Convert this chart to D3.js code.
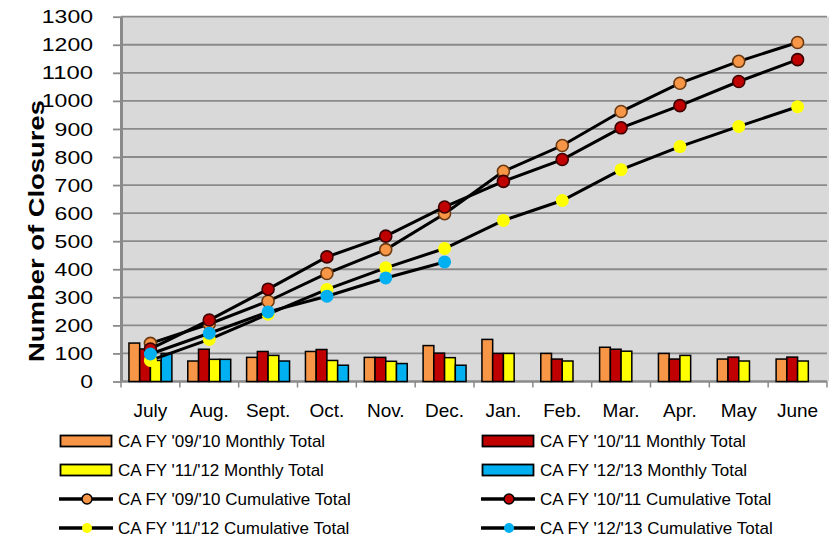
<!DOCTYPE html>
<html>
<head>
<meta charset="utf-8">
<script src="https://cdn.jsdelivr.net/npm/d3@7"></script>
<style>
  body { margin: 0; background: #fff; }
  svg { display: block; font-family: "Liberation Sans", Arial, sans-serif; }
</style>
</head>
<body>
<svg id="chart"></svg>
<script>
const months = ['July', 'Aug.', 'Sept.', 'Oct.', 'Nov.', 'Dec.', 'Jan.', 'Feb.', 'Mar.', 'Apr.', 'May', 'June'];
const yTicks = [0, 100, 200, 300, 400, 500, 600, 700, 800, 900, 1000, 1100, 1200, 1300];

const monthly0910 = [137, 73, 86, 107, 86, 128, 150, 100, 122, 100, 80, 80];
const monthly1011 = [116, 115, 107, 114, 86, 101, 100, 80, 115, 80, 87, 87];
const monthly1112 = [75, 79, 93, 75, 72, 85, 100, 73, 108, 93, 73, 73];
const monthly1213 = [100, 79, 73, 58, 64, 58];

const cum0910 = [136, 205, 286, 385, 470, 598, 749, 841, 962, 1063, 1141, 1208];
const cum1011 = [116, 219, 329, 444, 518, 622, 713, 791, 904, 983, 1069, 1147];
const cum1112 = [75, 150, 240, 328, 405, 474, 574, 645, 755, 837, 909, 979];
const cum1213 = [98, 172, 248, 304, 369, 426];

const barSeries = [
  {name: "CA FY '09/'10 Monthly Total", values: monthly0910, color: '#F79646'},
  {name: "CA FY '10/'11 Monthly Total", values: monthly1011, color: '#C00000'},
  {name: "CA FY '11/'12 Monthly Total", values: monthly1112, color: '#FFFF00'},
  {name: "CA FY '12/'13 Monthly Total", values: monthly1213, color: '#00B0F0'}
];

const lineSeries = [
  {name: "CA FY '09/'10 Cumulative Total", values: cum0910, color: '#F79646', stroke: '#6b3a12'},
  {name: "CA FY '10/'11 Cumulative Total", values: cum1011, color: '#C00000', stroke: '#3d0000'},
  {name: "CA FY '11/'12 Cumulative Total", values: cum1112, color: '#FFFF00', stroke: 'none'},
  {name: "CA FY '12/'13 Cumulative Total", values: cum1213, color: '#00B0F0', stroke: 'none'}
];

const W = 838, H = 540;
const plot = {left: 121, right: 827, top: 16.7, bottom: 381.5};
const gridColor = '#8a8a8a';

const svg = d3.select('#chart').attr('width', W).attr('height', H);

const x = d3.scaleBand()
  .domain(months)
  .range([plot.left, plot.right])
  .paddingInner(0.27)
  .paddingOuter(0.135);

const xs = d3.scaleBand()
  .domain(d3.range(barSeries.length))
  .range([0, x.bandwidth()]);

const y = d3.scaleLinear()
  .domain([0, 1300])
  .range([plot.bottom, plot.top]);

const cx = d => x(d) + x.bandwidth() / 2;

// plot background
svg.append('rect')
  .attr('x', plot.left)
  .attr('y', plot.top)
  .attr('width', plot.right - plot.left + 2)
  .attr('height', plot.bottom - plot.top)
  .attr('fill', '#D9D9D9');

// gridlines
svg.append('g')
  .selectAll('line')
  .data(yTicks)
  .enter()
  .append('line')
  .attr('x1', plot.left)
  .attr('x2', plot.right)
  .attr('y1', d => y(d))
  .attr('y2', d => y(d))
  .attr('stroke', gridColor)
  .attr('stroke-width', 1.8);

// y axis
const yAxis = svg.append('g')
  .attr('transform', 'translate(' + plot.left + ',0)')
  .call(d3.axisLeft(y).tickValues(yTicks).tickFormat(d3.format('d'))
    .tickSize(8).tickPadding(20).tickSizeOuter(0));
yAxis.select('.domain').attr('stroke', gridColor).attr('stroke-width', 3);
yAxis.selectAll('.tick line').attr('stroke', gridColor).attr('stroke-width', 1.8);
yAxis.selectAll('.tick text')
  .attr('fill', '#000')
  .attr('font-size', '19px')
  .attr('font-family', '"Liberation Sans", Arial, sans-serif')
  .attr('textLength', d => String(d).length * 12.8)
  .attr('lengthAdjust', 'spacingAndGlyphs');

// x axis
const stepPad = (x.step() - x.bandwidth()) / 2;
const xAxis = svg.append('g')
  .attr('transform', 'translate(0,' + plot.bottom + ')')
  .call(d3.axisBottom(x).tickSize(0).tickPadding(22));
xAxis.select('.domain').remove();
xAxis.selectAll('.tick text')
  .attr('fill', '#000')
  .attr('font-size', '19px')
  .attr('font-family', '"Liberation Sans", Arial, sans-serif');

svg.append('line')
  .attr('x1', plot.left)
  .attr('x2', plot.right)
  .attr('y1', plot.bottom)
  .attr('y2', plot.bottom)
  .attr('stroke', gridColor)
  .attr('stroke-width', 2.2);

svg.append('g')
  .selectAll('line')
  .data(months.concat(['end']))
  .enter()
  .append('line')
  .attr('x1', (d, i) => i < months.length ? x(d) - stepPad : x(months[months.length - 1]) + x.bandwidth() + stepPad)
  .attr('x2', (d, i) => i < months.length ? x(d) - stepPad : x(months[months.length - 1]) + x.bandwidth() + stepPad)
  .attr('y1', plot.bottom)
  .attr('y2', plot.bottom + 6)
  .attr('stroke', gridColor)
  .attr('stroke-width', 1.5);

// bars
barSeries.forEach((s, si) => {
  svg.append('g')
    .selectAll('rect')
    .data(s.values)
    .enter()
    .append('rect')
    .attr('x', (d, i) => x(months[i]) + xs(si))
    .attr('y', d => y(d))
    .attr('width', xs.bandwidth())
    .attr('height', d => y(0) - y(d))
    .attr('fill', s.color)
    .attr('stroke', '#000')
    .attr('stroke-width', 1.5);
});

// cumulative lines
const line = d3.line()
  .x((d, i) => cx(months[i]))
  .y(d => y(d));

lineSeries.forEach(s => {
  const g = svg.append('g');
  g.append('path')
    .datum(s.values)
    .attr('d', line)
    .attr('fill', 'none')
    .attr('stroke', '#000')
    .attr('stroke-width', 3);
  g.selectAll('circle')
    .data(s.values)
    .enter()
    .append('circle')
    .attr('cx', (d, i) => cx(months[i]))
    .attr('cy', d => y(d))
    .attr('r', s.stroke === 'none' ? 6.5 : 6)
    .attr('fill', s.color)
    .attr('stroke', s.stroke)
    .attr('stroke-width', 1.6);
});

// y title
svg.append('text')
  .attr('transform', 'translate(44,231) rotate(-90)')
  .attr('text-anchor', 'middle')
  .attr('font-size', '22px')
  .attr('font-weight', 700)
  .attr('textLength', 262)
  .attr('lengthAdjust', 'spacingAndGlyphs')
  .text('Number of Closures');

// legend
const legendItems = [barSeries[0], barSeries[1], barSeries[2], barSeries[3],
  lineSeries[0], lineSeries[1], lineSeries[2], lineSeries[3]];
const colX = [59, 481];

const legend = svg.append('g')
  .selectAll('g')
  .data(legendItems)
  .enter()
  .append('g')
  .attr('transform', (d, i) => 'translate(' + colX[i % 2] + ',' + (441 + Math.floor(i / 2) * 29) + ')');

legend.each(function (d, i) {
  const g = d3.select(this);
  if (i < 4) {
    g.append('rect')
      .attr('x', 1.5)
      .attr('y', -5.5)
      .attr('width', 51)
      .attr('height', 11)
      .attr('fill', d.color)
      .attr('stroke', '#000')
      .attr('stroke-width', 1.8);
  } else {
    g.append('line')
      .attr('x1', 0)
      .attr('x2', 54)
      .attr('stroke', '#000')
      .attr('stroke-width', 3.5);
    g.append('circle')
      .attr('cx', 28)
      .attr('r', 5)
      .attr('fill', d.color)
      .attr('stroke', d.stroke === 'none' ? 'none' : '#000')
      .attr('stroke-width', 1.5);
  }
  g.append('text')
    .attr('x', 59)
    .attr('y', 6)
    .attr('font-size', '17px')
    .attr('fill', '#000')
    .text(d.name);
});
</script>
</body>
</html>
